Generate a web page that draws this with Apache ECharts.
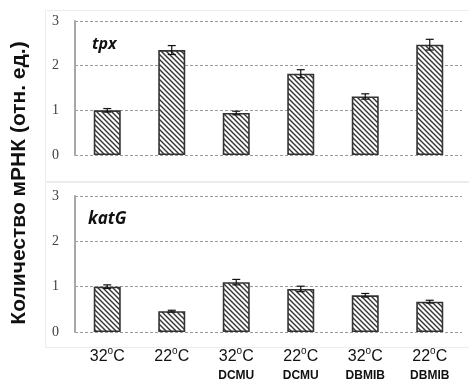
<!DOCTYPE html>
<html>
<head>
<meta charset="utf-8">
<script src="https://cdn.jsdelivr.net/npm/echarts@6/dist/echarts.min.js"></script>
<style>
html,body{margin:0;padding:0;background:#fff;}
#chart{width:469px;height:385px;}
</style>
</head>
<body>
<div id="chart"></div>
<script>
// Conditions (temperature + inhibitor)
const temps = ['32', '22', '32', '22', '32', '22'];
const inhibitors = ['', '', 'DCMU', 'DCMU', 'DBMIB', 'DBMIB'];
const categories = temps.map((t, i) => t + '|' + inhibitors[i]);

// Relative mRNA levels and their errors
const tpxValues = [1.00, 2.35, 0.94, 1.82, 1.31, 2.47];
const tpxErrors = [0.04, 0.10, 0.04, 0.09, 0.06, 0.12];
const katGValues = [1.00, 0.46, 1.10, 0.95, 0.81, 0.67];
const katGErrors = [0.04, 0.02, 0.06, 0.06, 0.04, 0.03];

const yTicks = [0, 1, 2, 3];

// Diagonal hatch fill for the bars
function hatch() {
  const s = 5;
  const c = document.createElement('canvas');
  c.width = s; c.height = s;
  const g = c.getContext('2d');
  g.fillStyle = '#ffffff';
  g.fillRect(0, 0, s, s);
  g.strokeStyle = '#333333';
  g.lineWidth = 1.4;
  g.beginPath();
  g.moveTo(-1, -1); g.lineTo(s + 1, s + 1);
  g.moveTo(-1, s - 1); g.lineTo(1, s + 1);
  g.moveTo(s - 1, -1); g.lineTo(s + 1, 1);
  g.stroke();
  return c;
}
const pattern = { image: hatch(), repeat: 'repeat' };

const chart = echarts.init(document.getElementById('chart'), null, { renderer: 'canvas' });

function errSeries(values, errors, idx) {
  return {
    type: 'custom',
    xAxisIndex: idx, yAxisIndex: idx,
    z: 5,
    data: values.map((v, i) => [i, v - errors[i], v + errors[i]]),
    renderItem: function (params, api) {
      const x = api.coord([api.value(0), 0])[0];
      const lo = api.coord([api.value(0), api.value(1)])[1];
      const hi = api.coord([api.value(0), api.value(2)])[1];
      const w = 4;
      const st = { stroke: '#111', lineWidth: 1.2 };
      return {
        type: 'group',
        children: [
          { type: 'line', shape: { x1: x, y1: lo, x2: x, y2: hi }, style: st },
          { type: 'line', shape: { x1: x - w, y1: lo, x2: x + w, y2: lo }, style: st },
          { type: 'line', shape: { x1: x - w, y1: hi, x2: x + w, y2: hi }, style: st }
        ]
      };
    }
  };
}

function yAxis(idx) {
  return {
    type: 'value', gridIndex: idx,
    min: yTicks[0], max: yTicks[yTicks.length - 1], interval: 1,
    axisLine: { show: true, lineStyle: { color: '#a8a8a8', width: 2 } },
    axisTick: { show: false },
    axisLabel: { color: '#404040', fontSize: 14, fontFamily: 'Liberation Serif', margin: 16 },
    splitLine: { show: true, lineStyle: { color: '#9a9a9a', type: [3, 2], width: 1 } }
  };
}

function xAxis(idx, showLabels) {
  return {
    type: 'category', gridIndex: idx, data: categories,
    axisLine: { show: false }, axisTick: { show: false },
    axisLabel: {
      show: showLabels, interval: 0, margin: 14,
      formatter: function (v) {
        const [t, inh] = v.split('|');
        return '{t|' + t + '}{s|o}{t|C}' + (inh ? '\n{d|' + inh + '}' : '\n{d| }');
      },
      rich: {
        t: { fontSize: 16, fontFamily: 'Liberation Sans', color: '#111', lineHeight: 21 },
        s: { fontSize: 10, fontFamily: 'Liberation Sans', color: '#111', verticalAlign: 'top', padding: [0, 0, 9, 0], lineHeight: 21 },
        d: { fontSize: 12, fontWeight: 'bold', fontFamily: 'Liberation Sans', color: '#111', lineHeight: 17 }
      }
    }
  };
}

function barSeries(values, idx) {
  return {
    type: 'bar', xAxisIndex: idx, yAxisIndex: idx,
    data: values, barWidth: 27,
    itemStyle: { color: pattern, borderColor: '#333333', borderWidth: 1.6 }
  };
}

chart.setOption({
  animation: false,
  backgroundColor: '#ffffff',
  grid: [
    { left: 75, right: 7, top: 21, height: 134 },
    { left: 75, right: 7, top: 196, height: 136 }
  ],
  xAxis: [xAxis(0, false), xAxis(1, true)],
  yAxis: [yAxis(0), yAxis(1)],
  series: [
    barSeries(tpxValues, 0),
    errSeries(tpxValues, tpxErrors, 0),
    barSeries(katGValues, 1),
    errSeries(katGValues, katGErrors, 1)
  ],
  graphic: [
    { type: 'rect', z: -10, shape: { x: 45.5, y: 10.5, width: 430, height: 171 },
      style: { fill: 'none', stroke: '#ececec', lineWidth: 1 } },
    { type: 'rect', z: -10, shape: { x: 45.5, y: 182.5, width: 430, height: 165 },
      style: { fill: 'none', stroke: '#ececec', lineWidth: 1 } },
    { type: 'text', x: 92, y: 44, style: { text: 'tpx', font: 'italic bold 16px "Open Sans"', fill: '#111', textVerticalAlign: 'middle' } },
    { type: 'text', x: 88, y: 219, style: { text: 'katG', font: 'italic bold 17px "Open Sans"', fill: '#111', textVerticalAlign: 'middle' } },
    { type: 'text', x: 19, y: 183, rotation: Math.PI / 2,
      style: { text: 'Количество мРНК (отн. ед.)', font: 'bold 21px "Liberation Sans"', fill: '#111', textAlign: 'center', textVerticalAlign: 'middle' } }
  ]
});
</script>
</body>
</html>
